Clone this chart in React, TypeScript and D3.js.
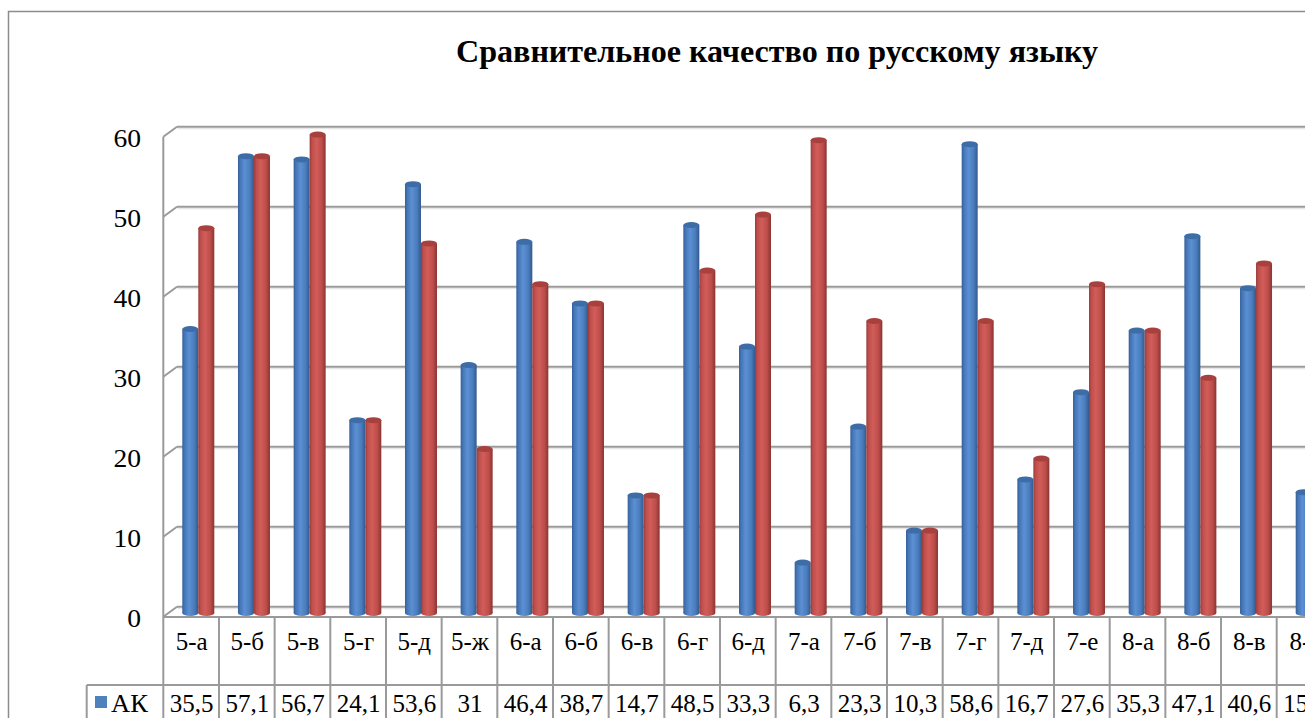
import React from "react";
import * as d3 from "d3";

const categories = ["5-а","5-б","5-в","5-г","5-д","5-ж","6-а","6-б","6-в","6-г","6-д","7-а","7-б","7-в","7-г","7-д","7-е","8-а","8-б","8-в","8-г"];
const akValues = [35.5,57.1,56.7,24.1,53.6,31,46.4,38.7,14.7,48.5,33.3,6.3,23.3,10.3,58.6,16.7,27.6,35.3,47.1,40.6,15.1];
const secondValues = [48.1,57.1,59.8,24.1,46.2,20.5,41.1,38.7,14.7,42.8,49.8,59.1,36.5,10.3,36.5,19.3,41.1,35.3,29.4,43.7];
const yTicks = [0,10,20,30,40,50,60];
const seriesName = "АК";
const title = "Сравнительное качество по русскому языку";

const W = 1305, H = 718;
const FONT = "Liberation Serif, Times New Roman, serif";

export default function App() {
  const x0 = 163.3, cellW = 55.67;
  const xCat = d3.scaleBand<string>().domain(categories).range([x0, x0 + cellW * categories.length]).padding(0);
  const yBar = d3.scaleLinear().domain([0, 60]).range([613, 133]);
  const yBack = d3.scaleLinear().domain([0, 60]).range([606.7, 126.7]);
  const yFront = d3.scaleLinear().domain([0, 60]).range([616.7, 136.7]);
  const depthX = 13.7;
  const barW = 16, barOff = 19;
  const grid = "#9a9a9a";
  const tableTop = 617, rowSep = 685;
  const fmt = (v: number) => String(v).replace(".", ",");

  const cyl = (key: string, x: number, v: number, grad: string, cap: string) => {
    const yt = yBar(v), yb = yBar(0);
    return (
      <g key={key}>
        <ellipse cx={x + barW / 2} cy={yb} rx={barW / 2} ry={3} fill={`url(#${grad})`} />
        <rect x={x} y={yt} width={barW} height={yb - yt} fill={`url(#${grad})`} />
        <ellipse cx={x + barW / 2} cy={yt} rx={barW / 2} ry={3} fill={cap} />
      </g>
    );
  };

  return (
    <svg width={W} height={H} style={{ position: "fixed", left: 0, top: 0, background: "#fff", fontFamily: FONT }}>
      <defs>
        <linearGradient id="gBlue" x1="0" x2="1" y1="0" y2="0">
          <stop offset="0" stopColor="#34609a" />
          <stop offset="0.15" stopColor="#4677b8" />
          <stop offset="0.42" stopColor="#5b90d3" />
          <stop offset="0.75" stopColor="#4a7dbd" />
          <stop offset="1" stopColor="#33598d" />
        </linearGradient>
        <linearGradient id="gRed" x1="0" x2="1" y1="0" y2="0">
          <stop offset="0" stopColor="#9a3b39" />
          <stop offset="0.15" stopColor="#be4f4c" />
          <stop offset="0.42" stopColor="#d25d59" />
          <stop offset="0.75" stopColor="#bd4e4b" />
          <stop offset="1" stopColor="#8a3431" />
        </linearGradient>
      </defs>
      <rect x={0} y={0} width={W} height={H} fill="#fff" />
      <rect x={8.5} y={11.5} width={W + 20} height={H + 20} fill="none" stroke="#8c8c8c" strokeWidth={1.5} />

      <text x={777} y={62} textAnchor="middle" fontSize={32} fontWeight="bold" textLength={642} lengthAdjust="spacingAndGlyphs" style={{ fontFamily: FONT }}>{title}</text>

      {yTicks.map((t) => (
        <g key={"g" + t}>
          <line x1={x0} y1={yFront(t)} x2={x0 + depthX} y2={yBack(t)} stroke={grid} strokeWidth={2} />
          <line x1={x0 + depthX} y1={yBack(t)} x2={W} y2={yBack(t)} stroke={grid} strokeWidth={2} />
          <line x1={x0 + depthX + 1} y1={yBack(t) + 2} x2={W} y2={yBack(t) + 2} stroke="#e2e2e2" strokeWidth={1} />
        </g>
      ))}
      <line x1={x0} y1={yFront(60)} x2={x0} y2={H} stroke={grid} strokeWidth={2} />

      {yTicks.map((t) => (
        <text key={"yl" + t} transform={`translate(141,${yFront(t) + 10.5}) scale(1.06,1)`} textAnchor="end" fontSize={26} style={{ fontFamily: FONT }}>{t}</text>
      ))}

      {categories.map((c, i) => {
        const bx = (xCat(c) as number) + barOff;
        return (
          <g key={"b" + c}>
            {cyl("a" + i, bx, akValues[i], "gBlue", "#3e6ca6")}
            {secondValues[i] !== undefined && cyl("r" + i, bx + barW, secondValues[i], "gRed", "#a8413e")}
          </g>
        );
      })}

      <line x1={x0} y1={tableTop} x2={W} y2={tableTop} stroke={grid} strokeWidth={2} />
      <line x1={86.7} y1={rowSep} x2={W} y2={rowSep} stroke={grid} strokeWidth={2} />
      <line x1={86.7} y1={rowSep} x2={86.7} y2={H} stroke={grid} strokeWidth={2} />
      {categories.map((c, i) => {
        const cx = xCat(c) as number;
        return (
          <g key={"t" + c}>
            {i > 0 && <line x1={cx} y1={tableTop} x2={cx} y2={H} stroke={grid} strokeWidth={2} />}
            <text x={cx + cellW / 2 + 0.5} y={650} textAnchor="middle" fontSize={25} style={{ fontFamily: FONT }}>{c}</text>
            <text x={cx + cellW / 2 + 0.5} y={712} textAnchor="middle" fontSize={25} style={{ fontFamily: FONT }}>{fmt(akValues[i])}</text>
          </g>
        );
      })}
      <rect x={95} y={696} width={12} height={12} fill="#4F81BD" />
      <text transform="translate(111,712) scale(1.06,1)" fontSize={25} style={{ fontFamily: FONT }}>{seriesName}</text>
    </svg>
  );
}
